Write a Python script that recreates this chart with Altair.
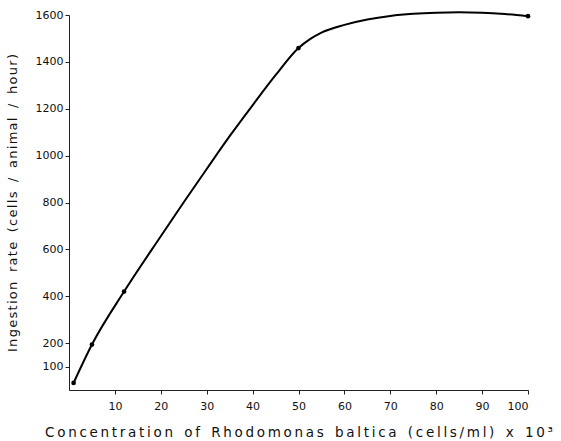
import altair as alt
import pandas as pd

# measured points
pt_x = [1, 5, 12, 50, 100]
pt_y = [30, 194, 420, 1459, 1595]

# fitted curve
curve_x = [1, 5, 12, 20, 25, 30, 35, 40, 45, 50, 52.5, 55, 60, 65, 70, 75, 80, 85, 90, 95, 100]
curve_y = [30, 194, 420, 656, 801, 943, 1083, 1215, 1343, 1459, 1497, 1525, 1558, 1581, 1596, 1605, 1610, 1612, 1610, 1604, 1595]

x_ticks = [10, 20, 30, 40, 50, 60, 70, 80, 90, 100]
y_ticks = [100, 200, 400, 600, 800, 1000, 1200, 1400, 1600]

x_title = "Concentration of Rhodomonas baltica (cells/ml) x 10³"
y_title = "Ingestion rate (cells / animal / hour)"


def spaced(s, gap):
    # widen the letter spacing as in the printed figure
    out = []
    for word in s.split(" "):
        out.append(gap.join(word))
    return ("\u00a0" + gap + "\u00a0").join(out)


pts = pd.DataFrame({"x": pt_x, "y": pt_y})
curve = pd.DataFrame({"x": curve_x, "y": curve_y})

FONT = "DejaVu Sans"

xenc = alt.X(
    "x:Q",
    scale=alt.Scale(domain=[0, 100], nice=False, zero=True),
    axis=alt.Axis(
        values=x_ticks, format="d",
        title=spaced(x_title, "\u2009"),
        titleFont=FONT, titleFontSize=13.5, titleFontWeight="normal",
        titlePadding=14, titleColor="#111",
        labelFont=FONT, labelFontSize=11, labelColor="#111",
        labelPadding=6,
        grid=False, domainColor="#222", tickColor="#222", tickSize=4,
    ),
)
yenc = alt.Y(
    "y:Q",
    scale=alt.Scale(domain=[0, 1600], nice=False),
    axis=alt.Axis(
        values=y_ticks, format="d",
        title=spaced(y_title, "\u200a"),
        titleFont=FONT, titleFontSize=13, titleFontWeight="normal",
        titlePadding=16, titleColor="#111",
        labelFont=FONT, labelFontSize=11, labelColor="#111",
        labelPadding=2,
        grid=False, domainColor="#222", tickColor="#222", tickSize=4,
    ),
)

line = alt.Chart(curve).mark_line(
    color="black", strokeWidth=2, interpolate="monotone", clip=False
).encode(x=xenc, y=yenc)

dots = alt.Chart(pts).mark_circle(color="black", size=22, opacity=1).encode(
    x="x:Q", y="y:Q"
)

chart = (
    alt.layer(line, dots)
    .properties(
        width=459,
        height=375,
        autosize=alt.AutoSizeParams(type="none"),
        padding={"left": 69, "top": 15, "right": 33, "bottom": 51},
        background="white",
    )
    .configure_view(stroke=None)
)

chart.save("out.html", embed_options={"renderer": "svg", "actions": False})
